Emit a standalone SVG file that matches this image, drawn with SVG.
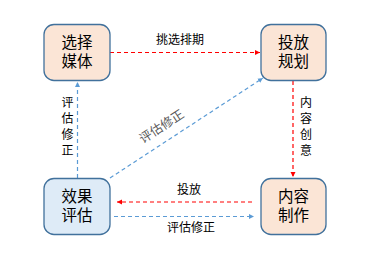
<svg xmlns="http://www.w3.org/2000/svg" width="366" height="260" viewBox="0 0 366 260">
<defs>
<style>
.node{stroke:#41719C;stroke-width:1.3}
.peach{fill:#FBE5D6}
.blue{fill:#DEEBF7}
.nt{font-family:"Noto Sans CJK SC","Liberation Sans",sans-serif;font-size:15.5px;fill:#000;text-anchor:middle}
.lt{font-family:"Noto Sans CJK SC","Liberation Sans",sans-serif;font-size:12px;fill:#000;text-anchor:middle}
.red{stroke:#FF0000;stroke-width:1.2;stroke-dasharray:4 3;fill:none}
.bl{stroke:#5B9BD5;stroke-width:1.2;stroke-dasharray:4 3;fill:none}
</style>
<marker id="ar" markerWidth="6" markerHeight="6" refX="5" refY="3" orient="auto" markerUnits="userSpaceOnUse"><path d="M0,0.5 L5,3 L0,5.5 Z" fill="#FF0000"/></marker>
<marker id="ab" markerWidth="6" markerHeight="6" refX="5" refY="3" orient="auto" markerUnits="userSpaceOnUse"><path d="M0,0.5 L5,3 L0,5.5 Z" fill="#5B9BD5"/></marker>
</defs>
<rect width="366" height="260" fill="#FFFFFF"/>
<g id="connectors">
<line class="red" x1="110" y1="52.5" x2="260" y2="52.5" marker-end="url(#ar)"/>
<line class="red" x1="293" y1="81" x2="293" y2="177" marker-end="url(#ar)"/>
<line class="red" x1="252" y1="202" x2="117" y2="202" marker-end="url(#ar)"/>
<line class="bl" x1="114" y1="216.5" x2="254" y2="216.5" marker-end="url(#ab)"/>
<line class="bl" x1="77.5" y1="178" x2="77.5" y2="82" marker-end="url(#ab)"/>
<line class="bl" x1="110" y1="178" x2="263" y2="78" marker-end="url(#ab)"/>
<text class="lt" x="180" y="44">挑选排期</text>
<text class="lt" x="306" y="107">内<tspan x="306" dy="16">容</tspan><tspan x="306" dy="16">创</tspan><tspan x="306" dy="16">意</tspan></text>
<text class="lt" x="67.5" y="107">评<tspan x="67.5" dy="16">估</tspan><tspan x="67.5" dy="16">修</tspan><tspan x="67.5" dy="16">正</tspan></text>
<text class="lt" x="189" y="194">投放</text>
<text class="lt" x="191" y="232">评估修正</text>
<text class="lt" x="0" y="0" style="font-size:12.5px;fill:#595959" transform="translate(164,130) rotate(-33.3)">评估修正</text>
</g>
<g id="node-select"><rect class="node peach" x="44" y="24.5" width="66" height="56" rx="10"/><text class="nt" x="77" y="48">选择<tspan x="77" dy="19">媒体</tspan></text></g>
<g id="node-plan"><rect class="node peach" x="261" y="24.5" width="65" height="56" rx="10"/><text class="nt" x="293.5" y="48">投放<tspan x="293.5" dy="19">规划</tspan></text></g>
<g id="node-eval"><rect class="node blue" x="44" y="178.5" width="66" height="56" rx="10"/><text class="nt" x="77" y="202">效果<tspan x="77" dy="19">评估</tspan></text></g>
<g id="node-content"><rect class="node peach" x="261" y="178.5" width="65" height="56" rx="10"/><text class="nt" x="293.5" y="202">内容<tspan x="293.5" dy="19">制作</tspan></text></g>
</svg>
